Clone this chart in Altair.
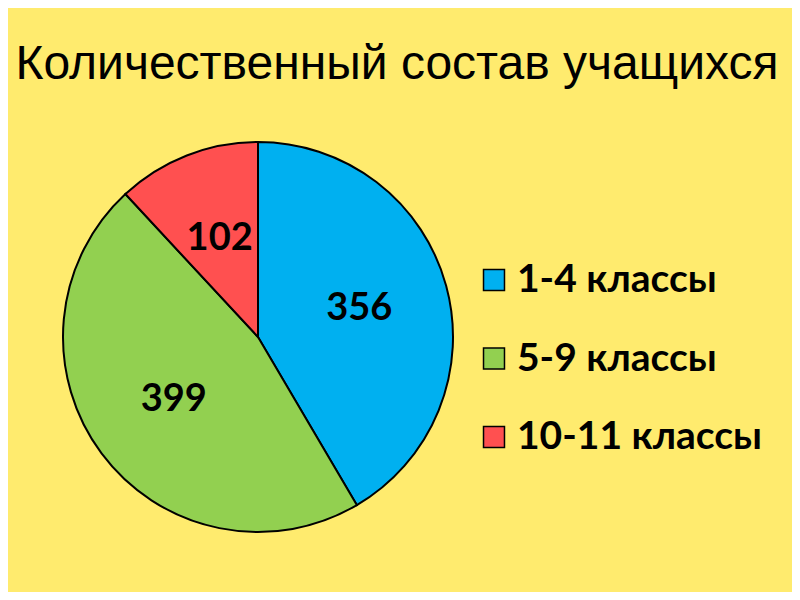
import altair as alt
import pandas as pd

categories = ["1-4 классы", "5-9 классы", "10-11 классы"]
values = [356, 399, 102]
colors = ["#00B0F0", "#92D050", "#FF5050"]
title_text = "Количественный состав учащихся"

df = pd.DataFrame({"cat": categories, "val": values, "idx": list(range(len(values)))})
df["label"] = df["val"].astype(str)

W, H = 784, 584
CX, CY, R = 250, 329, 195

color_scale = alt.Scale(domain=categories, range=colors)

base = alt.Chart(df)

pie = base.mark_arc(outerRadius=R, stroke="black", strokeWidth=2).encode(
    theta=alt.Theta("val:Q", stack=True),
    color=alt.Color("cat:N", scale=color_scale, legend=None),
    order=alt.Order("idx:Q"),
    x=alt.value(CX),
    y=alt.value(CY),
)

labels = base.mark_text(radius=105, font="Lato", fontWeight="bold", fontSize=38, color="black").encode(
    theta=alt.Theta("val:Q", stack=True),
    order=alt.Order("idx:Q"),
    text="label:N",
    x=alt.value(CX),
    y=alt.value(CY),
)

# manual legend
leg_y = alt.Scale(domain=[0, 2], range=[272, 429])
leg_sq = base.mark_point(shape="square", size=440, filled=True, stroke="black", strokeWidth=1.5, opacity=1).encode(
    x=alt.value(486),
    y=alt.Y("idx:Q", scale=leg_y, axis=None),
    color=alt.Color("cat:N", scale=color_scale, legend=None),
)
leg_txt = base.mark_text(align="left", baseline="middle", font="Lato", fontWeight="bold", fontSize=39, color="black").encode(
    x=alt.value(509),
    y=alt.Y("idx:Q", scale=leg_y, axis=None),
    text="cat:N",
)

title = alt.Chart(pd.DataFrame({"t": [title_text]})).mark_text(
    font="Liberation Sans", fontSize=48, color="black", align="center", baseline="alphabetic"
).encode(x=alt.value(389), y=alt.value(71), text="t:N")

chart = alt.layer(pie, labels, leg_sq, leg_txt, title).properties(
    width=W, height=H, padding=0, autosize=alt.AutoSizeParams(type="none")
).configure(background="#FFEB6E").configure_view(stroke=None)

chart.save("out.html", embed_options={"renderer": "svg", "actions": False})
